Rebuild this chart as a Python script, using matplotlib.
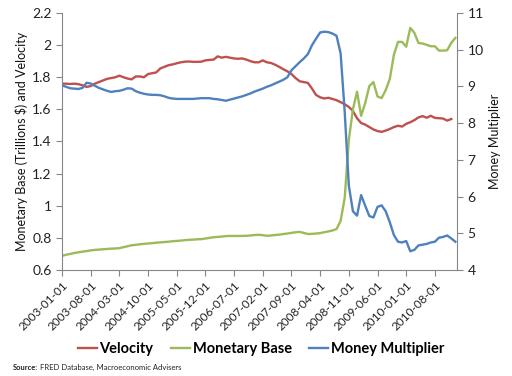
import matplotlib
matplotlib.use("Agg")
import matplotlib.pyplot as plt
import numpy as np

# Monthly data 2003-01 .. 2011-01
velocity = [1.76, 1.76, 1.758, 1.76, 1.757, 1.75, 1.74, 1.745, 1.76, 1.77,
            1.78, 1.79, 1.795, 1.80, 1.81, 1.80, 1.792, 1.787, 1.805, 1.805,
            1.80, 1.82, 1.825, 1.83, 1.855, 1.865, 1.875, 1.88, 1.887, 1.893,
            1.897, 1.898, 1.896, 1.896, 1.897, 1.905, 1.908, 1.91, 1.93, 1.922,
            1.927, 1.922, 1.917, 1.915, 1.917, 1.91, 1.90, 1.893, 1.893, 1.905,
            1.893, 1.889, 1.878, 1.865, 1.85, 1.837, 1.82, 1.795, 1.775, 1.77,
            1.765, 1.73, 1.69, 1.675, 1.668, 1.672, 1.665, 1.657, 1.645, 1.632,
            1.615, 1.59, 1.545, 1.515, 1.505, 1.49, 1.475, 1.465, 1.46, 1.468,
            1.478, 1.49, 1.498, 1.493, 1.51, 1.52, 1.533, 1.55, 1.558, 1.548,
            1.56, 1.547, 1.545, 1.543, 1.53, 1.54, np.nan]

monetary_base = [0.688, 0.695, 0.700, 0.706, 0.710, 0.714, 0.718, 0.722, 0.725, 0.727,
                 0.729, 0.731, 0.733, 0.734, 0.736, 0.742, 0.748, 0.754, 0.757, 0.760,
                 0.763, 0.765, 0.767, 0.770, 0.772, 0.774, 0.776, 0.779, 0.781, 0.783,
                 0.786, 0.788, 0.789, 0.791, 0.792, 0.796, 0.800, 0.804, 0.806, 0.808,
                 0.811, 0.812, 0.812, 0.812, 0.812, 0.813, 0.815, 0.818, 0.819, 0.817,
                 0.813, 0.815, 0.818, 0.820, 0.824, 0.827, 0.831, 0.835, 0.837, 0.831,
                 0.824, 0.825, 0.827, 0.830, 0.835, 0.840, 0.846, 0.855, 0.906, 1.05,
                 1.41, 1.60, 1.71, 1.56, 1.64, 1.745, 1.77, 1.68, 1.67, 1.72,
                 1.79, 1.94, 2.02, 2.02, 1.99, 2.107, 2.076, 2.013, 2.01, 2.002,
                 1.993, 1.993, 1.966, 1.966, 1.968, 2.014, 2.045]

money_multiplier = [9.03, 8.99, 8.95, 8.94, 8.93, 8.96, 9.10, 9.08, 9.02, 8.96,
                    8.92, 8.88, 8.85, 8.87, 8.88, 8.91, 8.95, 8.94, 8.87, 8.83,
                    8.80, 8.78, 8.77, 8.77, 8.76, 8.73, 8.69, 8.67, 8.66, 8.66,
                    8.66, 8.66, 8.66, 8.67, 8.68, 8.68, 8.68, 8.66, 8.65, 8.63,
                    8.61, 8.64, 8.67, 8.70, 8.73, 8.77, 8.81, 8.86, 8.90, 8.94,
                    8.99, 9.03, 9.08, 9.13, 9.18, 9.25, 9.44, 9.55, 9.66, 9.76,
                    9.88, 10.12, 10.30, 10.47, 10.49, 10.48, 10.44, 10.38, 9.90, 8.30,
                    6.30, 5.60, 5.48, 6.04, 5.75, 5.47, 5.43, 5.72, 5.76, 5.60,
                    5.30, 4.95, 4.77, 4.75, 4.79, 4.51, 4.55, 4.67, 4.69, 4.71,
                    4.75, 4.77, 4.88, 4.90, 4.94, 4.86, 4.77]

tick_labels = ["2003-01-01", "2003-08-01", "2004-03-01", "2004-10-01", "2005-05-01",
               "2005-12-01", "2006-07-01", "2007-02-01", "2007-09-01", "2008-04-01",
               "2008-11-01", "2009-06-01", "2010-01-01", "2010-08-01"]

plt.rcParams['font.family'] = ['Lato', 'DejaVu Sans']

RED = "#C0504D"
GREEN = "#9BBB59"
BLUE = "#4F81BD"
GREY = "#868686"

fig = plt.figure(figsize=(5.12, 3.76), dpi=100)
ax = fig.add_axes([62/512, 1-270/376, (457-62)/512, (270-13)/376])
ax2 = ax.twinx()

x = np.arange(len(monetary_base))
l1, = ax.plot(x, velocity, color=RED, lw=1.7, label="Velocity")
l2, = ax.plot(x, monetary_base, color=GREEN, lw=1.7, label="Monetary Base")
l3, = ax2.plot(x, money_multiplier, color=BLUE, lw=1.7, label="Money Multiplier")

ax.set_xlim(0, 96.4)
ax.set_ylim(0.6, 2.2)
ax2.set_ylim(4, 11)
ax.set_yticks(np.arange(0.6, 2.21, 0.2))
ax.set_yticklabels(["0.6", "0.8", "1", "1.2", "1.4", "1.6", "1.8", "2", "2.2"])
ax2.set_yticks(range(4, 12))

ax.set_xticks(np.arange(0, 92, 7))
ax.set_xticklabels(tick_labels, rotation=45, ha='right', rotation_mode='anchor',
                   fontsize=8.5, color='#222222')

for a in (ax, ax2):
    a.spines["top"].set_visible(False)
    for s in ("left", "right", "bottom"):
        a.spines[s].set_color(GREY)
        a.spines[s].set_linewidth(0.8)
    a.tick_params(colors=GREY, length=4, width=0.8, labelsize=10, labelcolor='#222222')
ax.spines["right"].set_visible(False)
ax2.spines["left"].set_visible(False)
ax2.spines["bottom"].set_visible(False)
ax.tick_params(axis='x', labelsize=8.5, pad=3)

ax.set_ylabel("Monetary Base (Trillions $) and Velocity", fontsize=9, color='#111111', labelpad=3)
ax2.set_ylabel("Money Multiplier", fontsize=9, color='#111111', labelpad=4)

leg = fig.legend(handles=[l1, l2, l3], loc='center', bbox_to_anchor=(0.51, 1-349/376),
                 ncol=3, frameon=False, handlelength=1.3, handletextpad=0.2,
                 columnspacing=1.2, prop={'weight': 'bold', 'size': 10.5})

t1 = fig.text(13/512, 1-367/376, "Source:", fontsize=5.5, fontweight='bold', va='center', color='#222222')
fig.canvas.draw()
bb = t1.get_window_extent(renderer=fig.canvas.get_renderer())
fig.text(bb.x1/512 + 2/512, 1-367/376, "FRED Database, Macroeconomic Advisers",
         fontsize=5.5, va='center', color='#222222')

fig.savefig("out.png", dpi=100)
